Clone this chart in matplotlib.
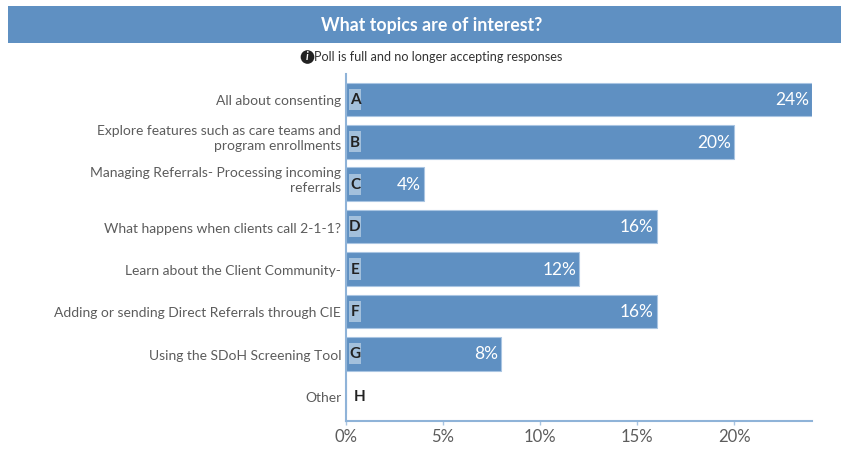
import matplotlib
matplotlib.use('Agg')
import matplotlib.pyplot as plt
from matplotlib.patches import Rectangle
from matplotlib.transforms import ScaledTranslation

plt.rcParams['font.family'] = ['Lato', 'DejaVu Sans']

W, H = 841, 463

title = 'What topics are of interest?'
note = 'Poll is full and no longer accepting responses'
topics = ['All about consenting',
          'Explore features such as care teams and\nprogram enrollments',
          'Managing Referrals- Processing incoming\nreferrals',
          'What happens when clients call 2-1-1?',
          'Learn about the Client Community-',
          'Adding or sending Direct Referrals through CIE',
          'Using the SDoH Screening Tool',
          'Other']
letters = ['A', 'B', 'C', 'D', 'E', 'F', 'G', 'H']
values = [24, 20, 4, 16, 12, 16, 8, 0]
xticks = [0, 5, 10, 15, 20]

blue = '#5f90c2'
edge = '#a9c5e2'
light = '#a3c0dc'
grey = '#5c5c5c'

fig = plt.figure(figsize=(W / 100, H / 100), dpi=100)

# header band
fig.patches.append(Rectangle((8 / W, 1 - 43 / H), 833 / W, 37 / H, transform=fig.transFigure,
                             facecolor=blue, edgecolor='none'))
fig.text(432 / W, 1 - 25 / H, title, color='white', fontsize=12.8, fontweight='bold',
         ha='center', va='center')

# poll note with info icon
fig.text(307.5 / W, 1 - 57 / H, 'i', color='white', fontsize=8, fontweight='bold', fontstyle='italic',
         ha='center', va='center', zorder=5,
         bbox=dict(boxstyle='circle,pad=0.12', facecolor='#222222', edgecolor='none'))
fig.text(314 / W, 1 - 57 / H, note, color='#333333', fontsize=9.1, ha='left', va='center')

ax = fig.add_axes([346 / W, 1 - 421 / H, 466 / W, 347 / H])
pos = list(range(len(topics)))
ax.barh(pos, values, height=0.79, color=blue, edgecolor=edge, linewidth=0.8)
ax.set_xlim(0, 24)
ax.set_ylim(7.585, -0.6)

ax.set_yticks(pos)
ax.set_yticklabels(topics, fontsize=10, color=grey, linespacing=1.28)
ax.tick_params(axis='y', length=0, pad=3.5)
# one line labels sit a bit low, two line labels sit higher up
for t in ax.get_yticklabels():
    dy = 4.3 if '\n' in t.get_text() else -0.7
    t.set_transform(t.get_transform() + ScaledTranslation(0, dy / 72, fig.dpi_scale_trans))
ax.set_xticks(xticks)
ax.set_xticklabels([f'{v}%' for v in xticks], fontsize=12, color=grey)
ax.tick_params(axis='x', length=3, width=1, color=edge, pad=3)

for s in ['top', 'right']:
    ax.spines[s].set_visible(False)
for s in ['left', 'bottom']:
    ax.spines[s].set_color('#8fb3d8')
    ax.spines[s].set_linewidth(1.5)

for i, (l, v) in enumerate(zip(letters, values)):
    if v > 0:
        # light chip behind the letter
        ax.barh(i, 0.63, left=0.155, height=0.5, color=light, zorder=3)
        ax.annotate(l, (0, i), xytext=(6.5, -0.5), textcoords='offset points', fontsize=11,
                    fontweight='bold', color='#222222', ha='center', va='center', zorder=4)
        ax.annotate(f'{v}%', (v, i), xytext=(-2, -0.5), textcoords='offset points', fontsize=12.5,
                    color='white', ha='right', va='center')
    else:
        ax.annotate(l, (0, i), xytext=(9.5, -0.5), textcoords='offset points', fontsize=11,
                    fontweight='bold', color='#222222', ha='center', va='center')

fig.savefig('out.png', dpi=100)
